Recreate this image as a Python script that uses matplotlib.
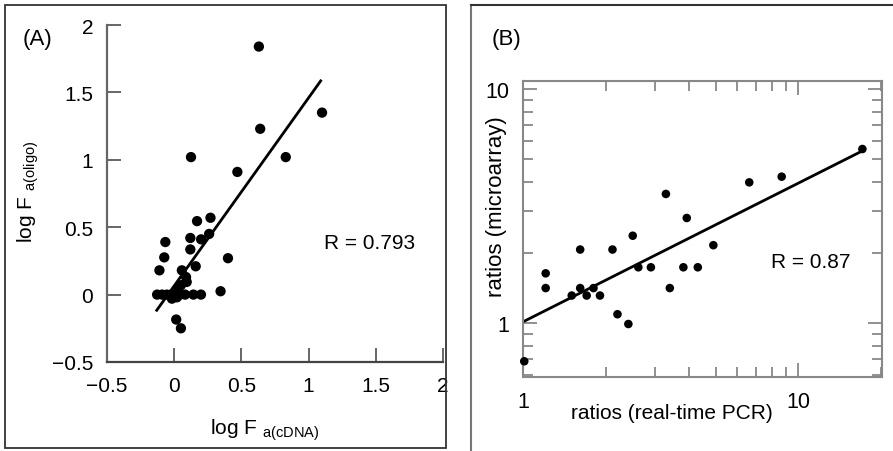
import matplotlib
matplotlib.use("Agg")
import matplotlib.pyplot as plt
import numpy as np
from matplotlib.patches import Rectangle
from matplotlib.lines import Line2D
from matplotlib.ticker import FixedLocator, NullFormatter, LogLocator

plt.rcParams['font.family'] = ['Liberation Sans', 'DejaVu Sans']
plt.rcParams['mathtext.fontset'] = 'custom'
plt.rcParams['mathtext.rm'] = 'Liberation Sans'

# ---- panel A: log fold change, oligo vs cDNA arrays ----
cdna_logf = [0.63, 1.10, 0.64, 0.83, 0.125, 0.47, 0.27, 0.17, 0.26, 0.12,
             0.20, -0.066, 0.12, 0.40, -0.074, 0.16, -0.11, 0.057, 0.088,
             0.093, 0.05, 0.03, 0.345, -0.127, -0.09, -0.054, -0.022, 0.007,
             0.044, 0.081, 0.143, 0.199, -0.017, 0.02, 0.015, 0.05]
oligo_logf = [1.84, 1.35, 1.23, 1.02, 1.02, 0.91, 0.57, 0.545, 0.45, 0.42,
              0.41, 0.39, 0.335, 0.27, 0.276, 0.21, 0.18, 0.18, 0.13,
              0.094, 0.07, 0.045, 0.025, 0.0, 0.0, 0.0, 0.0, 0.0,
              0.0, 0.0, 0.0, 0.0, -0.03, -0.02, -0.185, -0.25]
fitA_slope = 1.395
fitA_intercept = 0.065
fitA_xrange = [-0.13, 1.09]
ticksA = [-0.5, 0, 0.5, 1, 1.5, 2]
tick_labelsA = ['\u22120.5', '0', '0.5', '1', '1.5', '2']
rA_label = 'R = 0.793'

# ---- panel B: expression ratios, microarray vs real-time PCR ----
pcr_ratio = [1.008, 1.206, 1.206, 1.50, 1.61, 1.61, 1.70, 1.80, 1.90, 2.11,
             2.20, 2.41, 2.50, 2.62, 2.91, 3.30, 3.41, 3.82, 3.93, 4.31,
             4.91, 6.63, 8.70, 17.1]
array_ratio = [0.686, 1.63, 1.41, 1.31, 2.06, 1.41, 1.31, 1.41, 1.31, 2.06,
               1.09, 0.99, 2.36, 1.73, 1.73, 3.56, 1.41, 1.73, 2.81, 1.73,
               2.15, 3.99, 4.22, 5.54]
fitB_log_slope = 0.592
fitB_log_intercept = 0.0056
fitB_xrange = [1.0, 17.1]
rB_label = 'R = 0.87'

W, H = 893, 452
fig = plt.figure(figsize=(W / 100, H / 100), dpi=100)


def fbox(left, top, right, bottom):
    return [left / W, 1 - bottom / H, (right - left) / W, (bottom - top) / H]


# panel frames
fig.add_artist(Rectangle((5 / W, 1 - 449 / H), 441 / W, 443 / H,
                         transform=fig.transFigure, fill=False,
                         edgecolor='#333333', lw=1.3))
fig.add_artist(Line2D([471 / W, 471 / W], [0, 1 - 6 / H],
                      transform=fig.transFigure, color='#777777', lw=1.5))
fig.add_artist(Line2D([471 / W, 1], [1 - 6 / H, 1 - 6 / H],
                      transform=fig.transFigure, color='#333333', lw=1.5))

# ---------------- panel A ----------------
axA = fig.add_axes(fbox(107, 26, 443, 363))
axA.scatter(cdna_logf, oligo_logf, s=55, color='black', zorder=3,
            edgecolors='none')
fx = np.array(fitA_xrange)
axA.plot(fx, fitA_slope * fx + fitA_intercept, color='black', lw=2.0,
         zorder=2)
axA.set_xlim(-0.5, 2)
axA.set_ylim(-0.5, 2)
axA.set_xticks(ticksA)
axA.set_xticklabels(tick_labelsA)
axA.set_yticks(ticksA)
axA.set_yticklabels(tick_labelsA)
for s in ['top', 'right']:
    axA.spines[s].set_visible(False)
axA.spines['left'].set_color('#666666')
axA.spines['bottom'].set_color('#444444')
axA.spines['left'].set_linewidth(1.6)
axA.spines['bottom'].set_linewidth(1.6)
axA.tick_params(direction='in', length=10, width=1.4, color='#666666',
                labelsize=15, pad=10)
axA.text(0.78, 0.356, rA_label, transform=axA.transAxes, fontsize=15,
         ha='center', va='center')
axA.set_xlabel(r'log F $_{\mathregular{a(cDNA)}}$', fontsize=15)
axA.xaxis.set_label_coords(0.47, -0.20)
axA.xaxis.label.set_va('center')
axA.set_ylabel(r'log F $_{\mathregular{a(oligo)}}$', fontsize=15)
axA.yaxis.set_label_coords(-0.235, 0.507)
axA.yaxis.label.set_va('center')
fig.text(37 / W, 1 - 39 / H, '(A)', fontsize=16, ha='center', va='center')

# ---------------- panel B ----------------
axB = fig.add_axes(fbox(523.3, 81.7, 882, 378.3))
axB.set_xscale('log')
axB.set_yscale('log')
axB.scatter(pcr_ratio, array_ratio, s=38, color='black', zorder=3,
            edgecolors='none', clip_on=False)
bx = np.array(fitB_xrange)
axB.plot(bx, 10 ** (fitB_log_intercept + fitB_log_slope * np.log10(bx)),
         color='black', lw=2.0, zorder=2)
axB.set_xlim(1, 20.15)
axB.set_ylim(0.586, 10.85)
axB.xaxis.set_major_locator(FixedLocator([1, 10]))
axB.yaxis.set_major_locator(FixedLocator([1, 10]))
axB.set_xticklabels(['1', '10'])
axB.set_yticklabels(['1', '10'])
axB.xaxis.set_minor_locator(LogLocator(base=10, subs=np.arange(2, 10)))
axB.yaxis.set_minor_locator(LogLocator(base=10, subs=np.arange(2, 10)))
axB.xaxis.set_minor_formatter(NullFormatter())
axB.yaxis.set_minor_formatter(NullFormatter())
for s in axB.spines.values():
    s.set_color('#888888')
    s.set_linewidth(1.5)
axB.tick_params(which='both', direction='in', top=True, right=True,
                color='#888888', width=1.3, labelsize=15.5, pad=10)
axB.tick_params(which='major', length=10)
axB.tick_params(which='minor', length=7)
axB.text(0.80, 0.392, rB_label, transform=axB.transAxes, fontsize=15,
         ha='center', va='center')
axB.set_xlabel('ratios (real-time PCR)', fontsize=15)
axB.xaxis.set_label_coords(0.414, -0.12)
axB.xaxis.label.set_va('center')
axB.set_ylabel('ratios (microarray)', fontsize=16)
axB.yaxis.set_label_coords(-0.075, 0.58)
axB.yaxis.label.set_va('center')
fig.text(506 / W, 1 - 40 / H, '(B)', fontsize=16, ha='center', va='center')

fig.savefig('out.png', dpi=100)
